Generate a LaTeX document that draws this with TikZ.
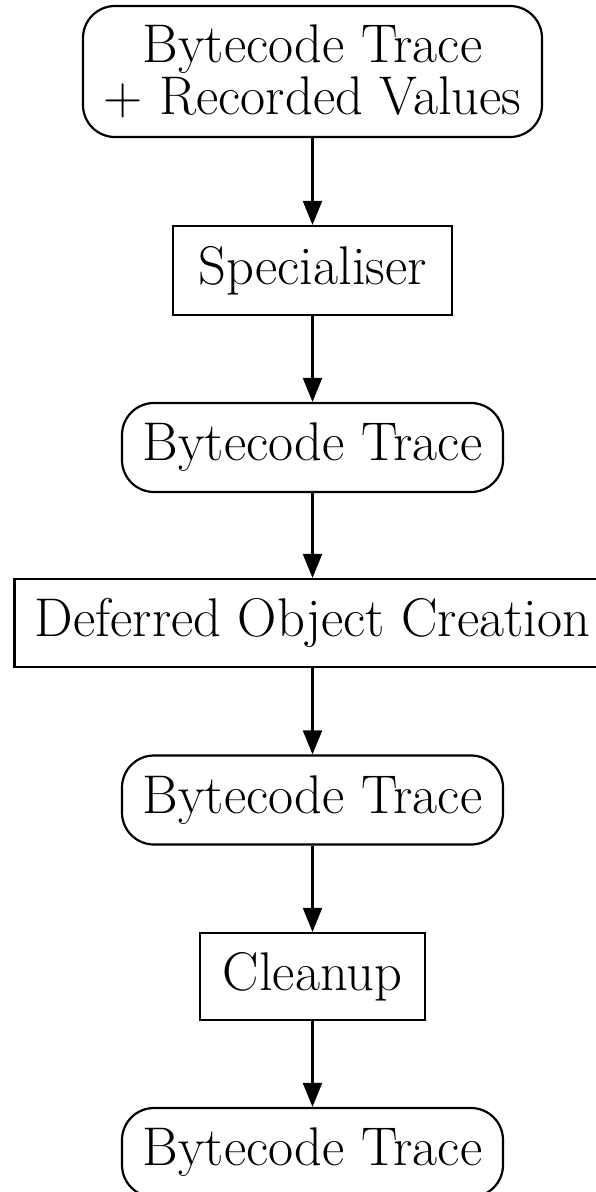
\documentclass[tikz,border=0pt]{standalone}
\usetikzlibrary{arrows.meta}
\begin{document}
\begin{tikzpicture}[x=1pt,y=-1pt,
  base/.style={draw=black, line width=2.2pt, fill=white, inner sep=0pt, align=center,
    font=\fontsize{54.5}{52}\selectfont},
  term/.style={base, rounded corners=32pt},
  proc/.style={base},
  flow/.style={draw=black, line width=2.2pt, -{Triangle[length=24pt,width=19pt]}}]
\useasboundingbox (0,0) rectangle (596,1192);
\clip (0,0) rectangle (596,1192);
\node[term, minimum width=459pt, minimum height=131pt] (n1) at (312.5,71.5) {Bytecode Trace\\+ Recorded Values};
\node[proc, minimum width=279pt, minimum height=89pt] (n2) at (312.5,270.5) {Specialiser};
\node[term, minimum width=381pt, minimum height=89pt] (n3) at (312.5,447.5) {Bytecode Trace};
\node[proc, minimum width=596pt, minimum height=88pt] (n4) at (312.5,623) {Deferred Object Creation};
\node[term, minimum width=381pt, minimum height=89pt] (n5) at (312.5,800) {Bytecode Trace};
\node[proc, minimum width=225pt, minimum height=87pt] (n6) at (312.5,976.5) {Cleanup};
\node[term, minimum width=381pt, minimum height=89pt] (n7) at (312.5,1152.5) {Bytecode Trace};
\draw[flow] (n1) -- (n2);
\draw[flow] (n2) -- (n3);
\draw[flow] (n3) -- (n4);
\draw[flow] (n4) -- (n5);
\draw[flow] (n5) -- (n6);
\draw[flow] (n6) -- (n7);
\end{tikzpicture}
\end{document}
